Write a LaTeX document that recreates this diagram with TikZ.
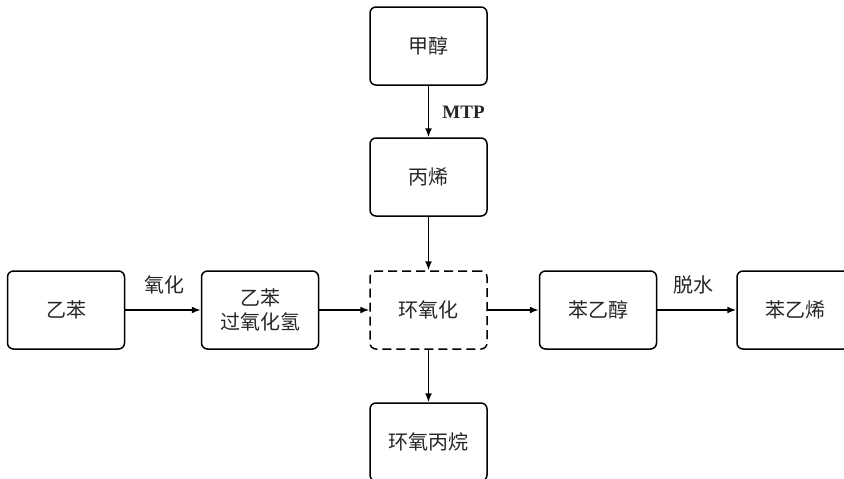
\documentclass[tikz,border=0pt]{standalone}
\usepackage{fontspec}
\setmainfont{Liberation Serif}
\newfontfamily\cjk{Noto Sans CJK SC}
\usetikzlibrary{arrows.meta}
\tikzset{
  box/.style={draw=black, line width=1.5pt, rounded corners=6pt, minimum width=117pt, minimum height=78pt, inner sep=0pt, align=center, font=\cjk\fontsize{20}{24}\selectfont, text=black!85},
  dbox/.style={box, dash pattern=on 9pt off 5pt},
  arr/.style={line width=1.5pt, -{Latex[length=9pt,width=7pt]}},
  lab/.style={font=\cjk\fontsize{20}{24}\selectfont, text=black!85, inner sep=0pt},
}
\begin{document}
\begin{tikzpicture}[x=1pt,y=-1pt]
\useasboundingbox (0,0) rectangle (844,479);
\node[box] (jc) at (428.5,46) {甲醇};
\node[box] (bx) at (428.5,177) {丙烯};
\node[box] (yb) at (66,310) {乙苯};
\node[box] (gy) at (260,310) {乙苯\\过氧化氢};
\node[dbox] (hy) at (428.5,310) {环氧化};
\node[box] (bc) at (598,310) {苯乙醇};
\node[box] (bxi) at (795.5,310) {苯乙烯};
\node[box] (hb) at (428.5,442) {环氧丙烷};
\draw[arr] (jc) -- (bx);
\draw[arr] (bx) -- (hy);
\draw[arr] (yb) -- (gy);
\draw[arr] (gy) -- (hy);
\draw[arr] (hy) -- (bc);
\draw[arr] (bc) -- (bxi);
\draw[arr] (hy) -- (hb);
\node[font=\bfseries\fontsize{19}{23}\selectfont, inner sep=0pt, text=black!85] (mtp) at (463.5,112) {MTP};
\node[lab] (yh) at (164,285) {氧化};
\node[lab] (ts) at (693,285) {脱水};
\end{tikzpicture}
\end{document}
